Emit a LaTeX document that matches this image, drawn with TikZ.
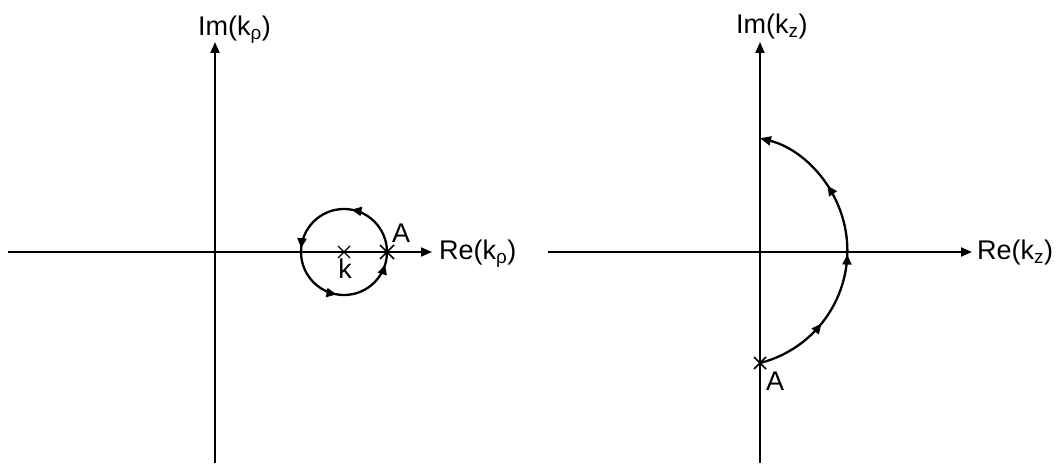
\documentclass[tikz,border=0pt]{standalone}
\usepackage{fontspec}
\setmainfont{Liberation Sans}
\usetikzlibrary{arrows.meta,decorations.markings,calc}
\begin{document}
\begin{tikzpicture}[x=1pt,y=1pt,
  mk/.tip={Triangle[length=10pt,width=9pt]},
  axis/.style={line width=1.8pt,-{Triangle[length=11pt,width=9pt]}},
  contour/.style={line width=2.3pt},
  lbl/.style={inner sep=0pt,font=\fontsize{27}{32}\selectfont},
  crossmark/.style={line width=1.4pt}]
\useasboundingbox (0,0) rectangle (1056,463);
% left plane
\coordinate (L0) at (8,211);
\coordinate (L1) at (432,211);
\coordinate (LB) at (215,0);
\coordinate (LT) at (215,421);
\draw[axis] (L0) -- (L1);
\draw[axis] (LB) -- (LT);
\node[lbl,anchor=base west] (ImL) at (198,427) {Im(k\textsubscript{ρ})};
\node[lbl,anchor=base west] (ReL) at (439,203) {Re(k\textsubscript{ρ})};
\coordinate (K) at (344,211);
\coordinate (A1) at (387,211);
\draw[contour,postaction={decorate},decoration={markings,
   mark=at position 0.222 with {\arrow{mk}},
   mark=at position 0.486 with {\arrow{mk}},
   mark=at position 0.722 with {\arrow{mk}},
   mark=at position 0.953 with {\arrow{mk}}}]
   (A1) arc[start angle=0,end angle=360,radius=43];
\draw[crossmark] ($(K)+(-6,-6)$) -- ($(K)+(6,6)$) ($(K)+(-6,6)$) -- ($(K)+(6,-6)$);
\draw[crossmark,line width=1.6pt] ($(A1)+(-7,-7)$) -- ($(A1)+(7,7)$) ($(A1)+(-7,7)$) -- ($(A1)+(7,-7)$);
\node[lbl,anchor=base] (kl) at (345,184) {k};
\node[lbl,anchor=base west] (AL) at (392,220) {A};
% right plane
\coordinate (R0) at (548,211);
\coordinate (R1) at (972,211);
\coordinate (RB) at (760,0);
\coordinate (RT) at (760,421);
\draw[axis] (R0) -- (R1);
\draw[axis] (RB) -- (RT);
\node[lbl,anchor=base west] (ImR) at (736,429) {Im(k\textsubscript{z})};
\node[lbl,anchor=base west] (ReR) at (977,203) {Re(k\textsubscript{z})};
\coordinate (A2) at (760,100);
\draw[contour,-{Triangle[length=11pt,width=9pt]},postaction={decorate},decoration={markings,
   mark=at position 0.242 with {\arrow{mk}},
   mark=at position 0.487 with {\arrow{mk}},
   mark=at position 0.725 with {\arrow{mk}}}]
   (A2) arc[start angle=-75.7,end angle=75.7,radius=116];
\draw[crossmark,line width=1.6pt] ($(A2)+(-6,-6)$) -- ($(A2)+(6,6)$) ($(A2)+(-6,6)$) -- ($(A2)+(6,-6)$);
\node[lbl,anchor=base west] (AR) at (766,73) {A};
\end{tikzpicture}
\end{document}
